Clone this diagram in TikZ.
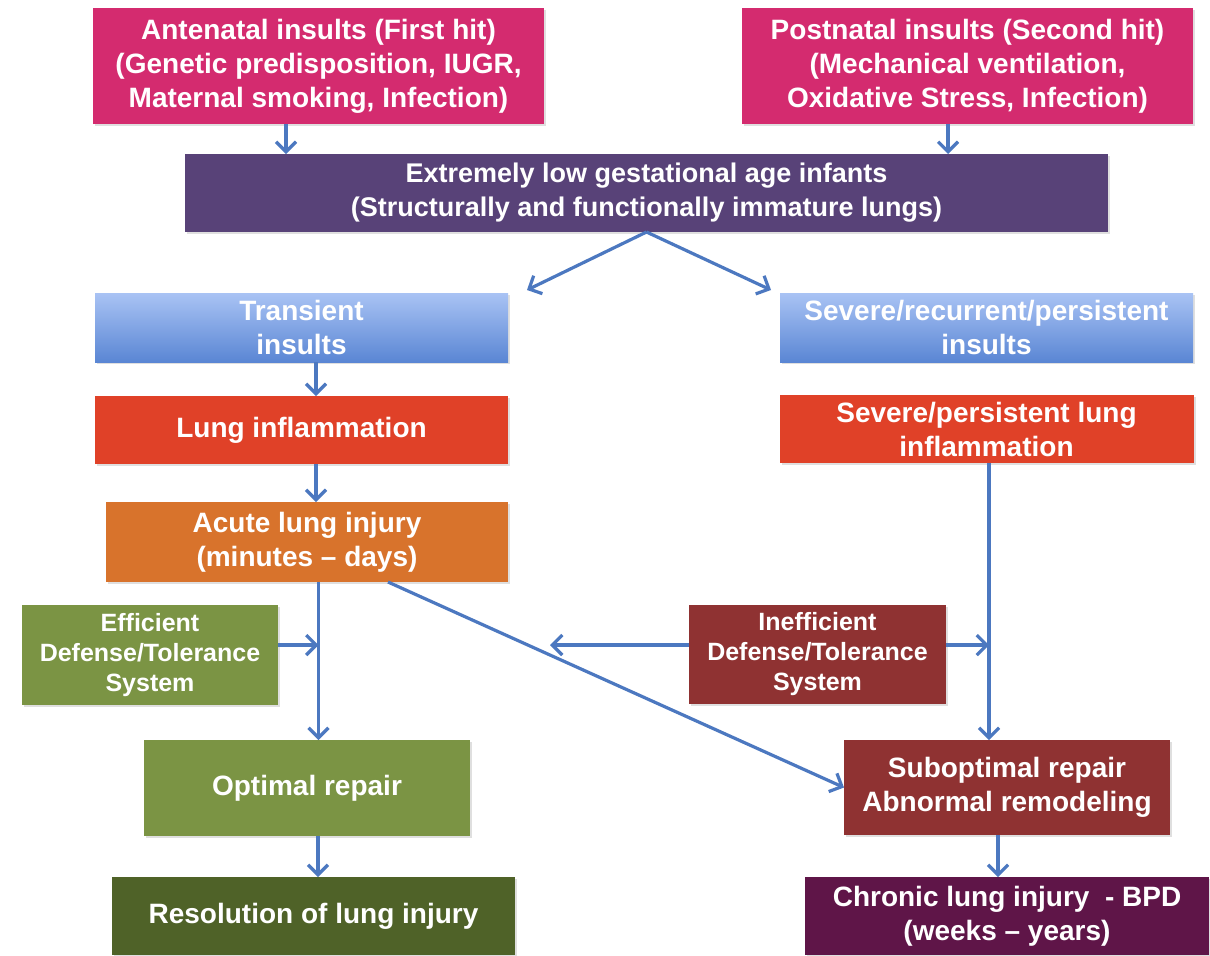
\documentclass[tikz,border=0pt]{standalone}
\usepackage{fontspec}
\setmainfont{Liberation Sans}
\usepackage{tikz}
\usetikzlibrary{positioning,arrows.meta,shadows}

\definecolor{hitpink}{HTML}{D42B6F}
\definecolor{elganpurple}{HTML}{584278}
\definecolor{insulttop}{HTML}{A9C3F4}
\definecolor{insultbottom}{HTML}{5A86D4}
\definecolor{inflamred}{HTML}{E04128}
\definecolor{acuteorange}{HTML}{D8732C}
\definecolor{goodgreen}{HTML}{7B9444}
\definecolor{resolgreen}{HTML}{4F6228}
\definecolor{badred}{HTML}{8F3232}
\definecolor{bpdplum}{HTML}{5F1548}
\definecolor{arrowblue}{HTML}{4C78C0}

\tikzset{
	stage/.style={rectangle, fill=#1, text=white, align=center,
		font=\bfseries\fontsize{14}{17}\selectfont, inner sep=2pt, outer sep=0pt,
		drop shadow={shadow xshift=1pt, shadow yshift=-1.2pt, opacity=0.25}},
	insult/.style={stage=insultbottom, top color=insulttop, bottom color=insultbottom},
	defense/.style={stage=#1, font=\bfseries\fontsize{12.5}{15}\selectfont},
	flow/.style={-{Straight Barb[length=5pt,width=10pt]}, draw=arrowblue, line width=1.6pt},
}

\begin{document}
\begin{tikzpicture}[x=0.5pt,y=-0.5pt]
		\path[use as bounding box, fill=white] (0,0) rectangle (1210,955);

		\node[stage=hitpink,
			minimum width=225.5pt,
			minimum height=58pt] (ante) at (318.5,66)
			{Antenatal insults (First hit)\\(Genetic predisposition, IUGR,\\Maternal smoking, Infection)};

		\node[stage=hitpink,
			minimum width=225.5pt,
			minimum height=58pt] (post) at (967.5,66)
			{Postnatal insults (Second hit)\\(Mechanical ventilation,\\Oxidative Stress, Infection)};

		\node[stage=elganpurple,
			font=\bfseries\fontsize{13.5}{17}\selectfont,
			minimum width=461.5pt,
			minimum height=39pt] (elgan) at (646.5,193)
			{Extremely low gestational age infants\\(Structurally and functionally immature lungs)};

		\node[insult,
			minimum width=206.5pt,
			minimum height=34.5pt] (trans) at (301.5,327.5) {Transient\\insults};

		\node[insult,
			minimum width=206.5pt,
			minimum height=34.5pt] (severe) at (986.5,327.5) {Severe/recurrent/persistent\\insults};

		\node[stage=inflamred,
			below=17pt of trans,
			minimum width=206.5pt,
			minimum height=34pt] (linf) {Lung inflammation};

		\node[stage=inflamred,
			below=16.5pt of severe,
			minimum width=207pt,
			minimum height=34pt] (sinf) {Severe/persistent lung\\inflammation};

		\node[stage=acuteorange,
			below=19pt of linf.south east,
			anchor=north east,
			minimum width=201pt,
			minimum height=40pt] (acute) {Acute lung injury\\(minutes -- days)};

		\node[defense=goodgreen,
			minimum width=128pt,
			minimum height=50pt] (eff) at (150,655) {Efficient\\Defense/Tolerance\\System};

		\node[defense=badred,
			minimum width=128.5pt,
			minimum height=49.5pt] (ineff) at (817.5,654.5) {Inefficient\\Defense/Tolerance\\System};

		\node[stage=goodgreen,
			below=79pt of acute,
			minimum width=163pt,
			minimum height=48pt] (opt) {Optimal repair};

		\node[stage=badred,
			minimum width=163pt,
			minimum height=47.5pt] (subopt) at (1007,787.5) {Suboptimal repair\\Abnormal remodeling};

		\node[stage=resolgreen,
			below=20.5pt of opt,
			xshift=3.25pt,
			minimum width=201.5pt,
			minimum height=39pt] (resol) {Resolution of lung injury};

		\node[stage=bpdplum,
			below=21pt of subopt,
			minimum width=202pt,
			minimum height=39pt] (chronic) {Chronic lung injury\ \ - BPD\\(weeks -- years)};

		\coordinate (leftjoin) at (318.5,645);
		\coordinate (rightjoin) at (989,645);
		\coordinate (ineffend) at (550,645);

		\draw[flow] (ante.south -| 286,0) -- (elgan.north -| 286,0);
		\draw[flow] (post.south -| 948,0) -- (elgan.north -| 948,0);
		\draw[flow] (elgan.south) -- ([shift={(9.5pt,1.5pt)}]trans.north east);
		\draw[flow] (elgan.south) -- ([shift={(-4.5pt,1.5pt)}]severe.north west);
		\draw[flow] (trans.south -| 316,0) -- (linf.north -| 316,0);
		\draw[flow] (linf.south -| 316,0) -- (acute.north -| 316,0);
		\draw[flow] (acute.south -| 318.5,0) -- (opt.north -| 318.5,0);
		\draw[flow] ([yshift=5pt]eff.east) -- (leftjoin);
		\draw[flow] ([xshift=40.5pt]acute.south) -- (subopt.west);
		\draw[flow] ([yshift=4.75pt]ineff.west) -- (ineffend);
		\draw[flow] ([yshift=4.75pt]ineff.east) -- (rightjoin);
		\draw[flow] (sinf.south -| 989,0) -- (subopt.north -| 989,0);
		\draw[flow] (opt.south -| 318,0) -- (resol.north -| 318,0);
		\draw[flow] (subopt.south -| 998,0) -- (chronic.north -| 998,0);

	\end{tikzpicture}
\end{document}
